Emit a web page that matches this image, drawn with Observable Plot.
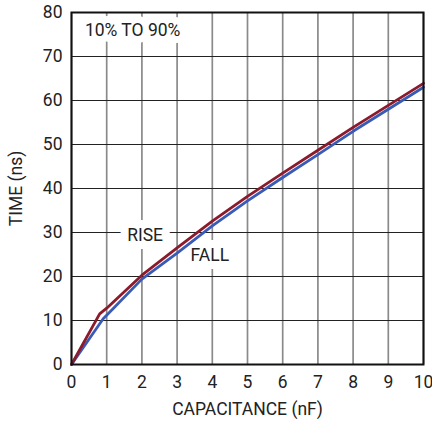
<!DOCTYPE html>
<html>
<head>
<meta charset="utf-8">
<script src="https://cdn.jsdelivr.net/npm/d3@7"></script>
<script src="https://cdn.jsdelivr.net/npm/@observablehq/plot@0.6"></script>
<style>
  html, body { margin: 0; padding: 0; background: #fff; }
  #chart svg { display: block; }
</style>
</head>
<body>
<div id="chart"></div>
<script>
// Data
const capacitance = [0, 0.8, 1, 2, 3, 4, 5, 6, 7, 8, 9, 10];
const riseTime    = [0, 11.5, 12.8, 20.3, 26.5, 32.6, 38.2, 43.5, 48.7, 53.9, 58.9, 63.9];
const fallCap     = [0, 0.9, 1, 2, 3, 4, 5, 6, 7, 8, 9, 10];
const fallTime    = [0, 10.4, 11.2, 19.4, 25.3, 31.5, 37.2, 42.5, 47.7, 53.0, 58.0, 63.0];

const xTicks = [0, 1, 2, 3, 4, 5, 6, 7, 8, 9, 10];
const yTicks = [0, 10, 20, 30, 40, 50, 60, 70, 80];

const labelText = ["RISE", "FALL"];
const labelX = [2.09, 3.93];
const labelY = [29.4, 24.7];
const noteText = ["10% TO 90%"];
const noteX = [0.38];
const noteY = [76];

const rise = capacitance.map((c, i) => ({c, t: riseTime[i]}));
const fall = fallCap.map((c, i) => ({c, t: fallTime[i]}));
const labels = labelText.map((s, i) => ({s, x: labelX[i], y: labelY[i]}));
const notes = noteText.map((s, i) => ({s, x: noteX[i], y: noteY[i]}));

const font = "Roboto, 'Liberation Sans', sans-serif";

const chart = Plot.plot({
  width: 432,
  height: 421,
  marginLeft: 71,
  marginRight: 9,
  marginTop: 12,
  marginBottom: 57,
  style: {fontFamily: font, fontSize: "17.5px", color: "#222", background: "#fff", overflow: "visible"},
  x: {domain: [0, 10]},
  y: {domain: [0, 80]},
  marks: [
    Plot.gridX(xTicks, {stroke: "#8a8a8a", strokeOpacity: 1, strokeWidth: 1.7}),
    Plot.gridY(yTicks, {stroke: "#222", strokeOpacity: 1, strokeWidth: 1.1}),
    Plot.text(notes, {x: "x", y: "y", text: "s", textAnchor: "start", fill: "#222", stroke: "white", strokeWidth: 14, fontSize: 17.5}),
    Plot.text(labels, {x: "x", y: "y", text: "s", fill: "#222", stroke: "white", strokeWidth: 16, fontSize: 17.5}),
    Plot.line(fall, {x: "c", y: "t", stroke: "#3a5bb5", strokeWidth: 2.8}),
    Plot.line(rise, {x: "c", y: "t", stroke: "#8b1a2c", strokeWidth: 2.8}),
    Plot.frame({stroke: "#111", strokeWidth: 2}),
    Plot.axisX(xTicks, {tickSize: 0, tickPadding: 11, fontSize: 17.5, label: "CAPACITANCE (nF)", labelAnchor: "center", labelOffset: 50, labelArrow: "none"}),
    Plot.axisY(yTicks, {tickSize: 0, tickPadding: 9, fontSize: 17.5, label: "TIME (ns)", labelAnchor: "center", labelOffset: 62, labelArrow: "none"})
  ]
});
document.getElementById("chart").appendChild(chart);
</script>
</body>
</html>
